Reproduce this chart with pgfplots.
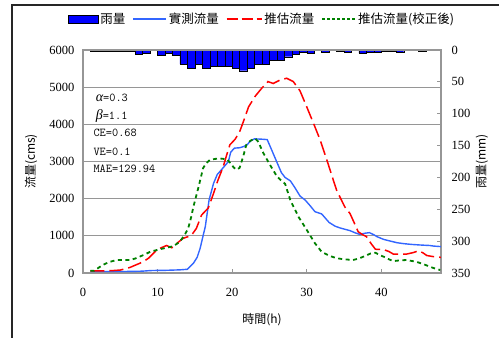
\documentclass[border=0pt]{standalone}
\usepackage{fontspec}
\setmainfont{Liberation Serif}
\newfontfamily\cjk{Noto Sans CJK TC}
\usepackage{pgfplots}
\pgfplotsset{compat=1.18}
\definecolor{obsblue}{RGB}{51,102,255}
\definecolor{estred}{RGB}{255,0,0}
\definecolor{corrgreen}{RGB}{0,128,0}
\definecolor{raincol}{RGB}{0,0,255}
\definecolor{axgray}{RGB}{150,150,150}
\newcommand{\greek}[1]{{\rmfamily\itshape\fontsize{14}{14}\selectfont #1}}
\begin{document}
\begin{tikzpicture}
\draw[line width=1.5pt, black!85] (12pt,-345pt) -- (12pt,-5pt) -- (510pt,-5pt);

% ---- rain axis (right, reversed)
\begin{axis}[
  at={(83pt,-273pt)}, anchor=south west,
  scale only axis, width=358pt, height=223pt,
  xmin=0, xmax=48, ymin=0, ymax=350, y dir=reverse,
  axis x line=none, axis y line*=right,
  axis line style={axgray, line width=1.2pt},
  ytick={0,50,...,350},
  tick align=inside, major tick length=4pt,
  tick style={axgray, line width=0.8pt},
  /pgf/number format/assume math mode=true,
  yticklabel style={font=\fontsize{12.5}{14}\selectfont, xshift=7pt},
  ylabel={\cjk 雨量(mm)},
  ylabel style={at={(axis description cs:1.1145,0.5)}, anchor=center, rotate=0, font=\fontsize{12}{14}\selectfont},
]
\addplot[ybar interval, fill=raincol, draw=black, line width=0.4pt] coordinates {
(1,2) (2,2) (3,2) (4,2) (5,2) (6,2) (7,7) (8,5.5) (9,1) (10,8) (11,5) (12,8)
(13,22) (14,28) (15,22) (16,28) (17,26) (18,26) (19,26) (20,28) (21,32.5) (22,28)
(23,23) (24,22) (25,16.5) (26,15.5) (27,10.5) (28,6.3) (29,3) (30,5) (31,1) (32,4)
(33,1) (34,2) (35,4) (36,1) (37,5) (38,3.5) (39,3) (40,2) (41,2) (42,4) (43,1)
(44,0) (45,1.5) (46,0)
};
\end{axis}

% ---- flow axis (left)
\begin{axis}[
  at={(83pt,-273pt)}, anchor=south west,
  scale only axis, width=358pt, height=223pt,
  xmin=0, xmax=48, ymin=0, ymax=6000,
  xtick={0,10,...,40}, ytick={0,1000,...,6000},
  xtick pos=bottom, ytick pos=left,
  axis line style={axgray, line width=1.2pt},
  tick align=inside, major tick length=4pt,
  xtick style={axgray, line width=0.8pt},
  ytick style={draw=none},
  ymajorgrids, grid style={axgray, line width=0.8pt},
  /pgf/number format/assume math mode=true,
  /pgf/number format/set thousands separator={},
  tick label style={font=\fontsize{12.5}{14}\selectfont},
  yticklabel style={xshift=-5pt},
  xticklabel style={yshift=-12pt},
  xlabel={\cjk 時間(h)},
  xlabel style={at={(axis description cs:0.5,-0.2108)}, anchor=center, font=\fontsize{12}{14}\selectfont},
  ylabel={\cjk 流量(cms)},
  ylabel style={at={(axis description cs:-0.145,0.5)}, anchor=center, rotate=0, font=\fontsize{12}{14}\selectfont},
  legend columns=4,
  legend style={draw=none, fill=none, at={(0.5,1)}, anchor=center, yshift=31pt,
    font=\cjk\fontsize{12.5}{14}\selectfont,
    /tikz/every even column/.append style={column sep=5pt}},
  legend cell align=left,
]
\addlegendimage{legend image code/.code={\draw[fill=raincol, draw=black, line width=0.5pt] (0pt,-4pt) rectangle (30pt,4pt);}}
\addlegendentry{雨量}

\addplot[obsblue, line width=1.4pt, legend image code/.code={\draw[obsblue, line width=1.4pt] (0pt,0pt) -- (33pt,0pt);}] coordinates {
(1,40) (2,40) (3,40) (4,40) (5,40) (6,42) (7,45) (8,50) (9,65) (10,70) (11,72) (12,78) (13,85) (14,100)
(14.8,260) (15.3,420) (15.7,660) (16.1,1000) (16.4,1250) (16.9,1960) (17.5,2410) (18,2650) (18.4,2740)
(19,2880) (19.5,3000) (19.8,3250) (20.3,3360) (21,3370) (21.5,3400) (22,3450) (22.5,3560) (23,3610)
(24,3600) (24.7,3590) (25.3,3310) (26,2980) (26.6,2700) (27.1,2570) (27.8,2480) (28.4,2300) (29.1,2070)
(29.8,1960) (30.5,1800) (31.1,1650) (32,1590) (33,1360) (33.8,1260) (34.5,1210) (35.8,1140) (36.5,1080)
(37.1,1040) (37.8,1070) (38.4,1085) (39,1030) (39.4,980) (40.3,905) (41,870) (42.1,815) (43,790)
(44,770) (44.7,760) (45.5,750) (46.5,740) (47,725) (48,710)
};
\addlegendentry{實測流量}

\addplot[estred, line width=1.5pt, dash pattern=on 14pt off 5pt, legend image code/.code={\draw[estred, line width=1.5pt, dash pattern=on 11pt off 4pt] (0pt,0pt) -- (35pt,0pt);}] coordinates {
(1,60) (2,60) (3,60) (4,65) (5,80) (5.6,110) (6.3,150) (7,210) (7.6,260) (8.2,320) (8.8,400) (9.4,520)
(9.9,620) (10.5,680) (11.2,740) (11.9,680) (12.6,800) (13.4,930) (14.1,980) (14.6,1030) (15.2,1200)
(15.9,1560) (16.8,1750) (17.5,2140) (18.1,2500) (18.8,2860) (19.3,3200) (19.7,3450) (20.4,3600)
(21,3800) (21.5,4070) (22.2,4470) (23.1,4760) (24,4980) (24.8,5150) (25.5,5100) (26.4,5190) (27.3,5240)
(28.2,5150) (29.1,4900) (30,4470) (30.9,4030) (31.8,3580) (32.7,3040) (33.4,2600) (34,2230) (35.1,1780)
(35.8,1600) (36.3,1380) (36.9,1110) (37.5,1030) (38,980) (38.6,800) (39.2,640) (40.3,630) (41,580)
(41.6,510) (43.4,510) (44.3,550) (45,600) (45.6,540) (46.1,470) (47,440) (48,420)
};
\addlegendentry{推估流量}

\addplot[corrgreen, line width=1.8pt, dash pattern=on 4pt off 3.5pt, legend image code/.code={\draw[corrgreen, line width=1.8pt, dash pattern=on 2.5pt off 2.5pt] (0pt,0pt) -- (33pt,0pt);}] coordinates {
(1,60) (1.5,60) (2.3,170) (3,250) (3.6,300) (4.5,350) (5.5,350) (6.3,350) (7,390) (7.6,440) (8.3,500)
(9,570) (10.3,640) (11.2,680) (12.1,720) (12.7,800) (13.2,900) (13.7,1050) (14.1,1200) (14.5,1500)
(14.8,1780) (15.5,2320) (16.1,2820) (16.5,2950) (17,3040) (17.7,3070) (18.4,3080) (19.3,3060)
(19.8,2950) (20.2,2840) (20.6,2780) (21,2830) (21.5,3150) (21.9,3450) (22.4,3550) (22.8,3600)
(23.1,3620) (23.5,3530) (24.2,3220) (25.1,2900) (26,2600) (26.6,2480) (27.1,2400) (27.8,1960)
(28.9,1510) (30,1160) (31.1,800) (32,570) (33.1,457) (34,400) (34.9,370) (36.2,350) (37,390)
(37.6,440) (38.5,520) (39.2,546) (39.8,480) (40.3,440) (41,370) (41.6,320) (42.5,340) (43.4,350)
(44.7,300) (45.5,250) (46.5,170) (47.2,120) (47.9,80)
};
\addlegendentry{推估流量(校正後)}

\node[anchor=west, font=\ttfamily\fontsize{12}{14}\selectfont] at (axis description cs:0.026,0.7834) {\greek{α}=0.3};
\node[anchor=west, font=\ttfamily\fontsize{12}{14}\selectfont] at (axis description cs:0.026,0.704) {\greek{β}=1.1};
\node[anchor=west, font=\ttfamily\fontsize{12}{14}\selectfont] at (axis description cs:0.0196,0.6266) {CE=0.68};
\node[anchor=west, font=\ttfamily\fontsize{12}{14}\selectfont] at (axis description cs:0.0196,0.5439) {VE=0.1};
\node[anchor=west, font=\ttfamily\fontsize{12}{14}\selectfont] at (axis description cs:0.0196,0.4650) {MAE=129.94};
\end{axis}
\pgfresetboundingbox
\useasboundingbox (0pt,0pt) rectangle (499pt,-338pt);
\end{tikzpicture}
\end{document}
